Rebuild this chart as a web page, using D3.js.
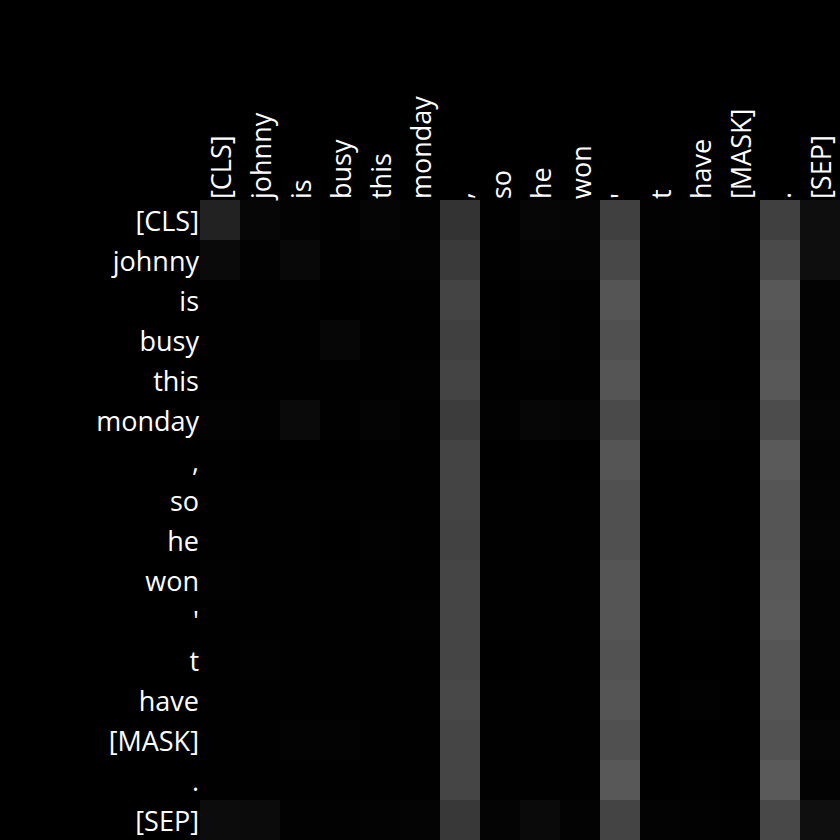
<!DOCTYPE html>
<html>
<head>
  <meta charset="utf-8">
  <title></title>
  <style type="text/css">
    html, body {
      margin: 0;
      padding: 0;
      background-color: #000;
    }

    .label {
      font-family: "Open Sans";
      font-size: 27px;
      fill: #fff;
    }
  </style>
</head>
<body>
  <div class="chart"></div>

  <script type="text/javascript" src="https://cdn.jsdelivr.net/npm/d3@7"></script>
  <script type="text/javascript">

    // tokens, same for rows (query) and columns (key)
    var tokens = ['[CLS]', 'johnny', 'is', 'busy', 'this', 'monday', ',', 'so', 'he', 'won', '\'', 't', 'have', '[MASK]', '.', '[SEP]'];

    // attention weights, one array per row token
    var rowCLS    = [.133, .024, .012, .004, .020, .008, .200, .004, .024, .020, .251, .008, .012, .004, .251, .055];
    var rowJohnny = [.039, .008, .031, .004, .008, .012, .227, .004, .016, .016, .282, .004, .004, .004, .290, .055];
    var rowIs     = [.004, .004, .004, .000, .004, .004, .267, .000, .008, .004, .333, .000, .004, .000, .345, .012];
    var rowBusy   = [.004, .004, .004, .024, .004, .004, .251, .000, .012, .004, .314, .000, .004, .000, .333, .012];
    var rowThis   = [.004, .004, .004, .004, .004, .008, .267, .004, .004, .004, .333, .000, .000, .000, .345, .012];
    var rowMonday = [.012, .008, .039, .004, .016, .004, .235, .008, .024, .020, .290, .008, .012, .004, .298, .020];
    var rowComma  = [.004, .000, .000, .000, .004, .004, .267, .000, .004, .000, .333, .000, .000, .000, .353, .012];
    var rowSo     = [.004, .004, .004, .004, .004, .004, .267, .004, .004, .004, .314, .000, .000, .000, .333, .016];
    var rowHe     = [.004, .004, .004, .000, .008, .004, .259, .004, .004, .004, .314, .000, .000, .000, .333, .020];
    var rowWon    = [.008, .004, .004, .004, .004, .004, .271, .004, .004, .004, .333, .000, .004, .000, .345, .012];
    var rowApos   = [.004, .004, .004, .004, .004, .008, .271, .004, .004, .004, .333, .000, .004, .000, .353, .012];
    var rowT      = [.004, .008, .004, .004, .004, .004, .271, .000, .004, .004, .322, .000, .000, .000, .333, .012];
    var rowHave   = [.004, .004, .004, .004, .004, .004, .282, .004, .004, .004, .333, .000, .008, .000, .333, .008];
    var rowMask   = [.004, .004, .012, .012, .004, .004, .271, .004, .004, .004, .314, .000, .000, .000, .322, .020];
    var rowPeriod = [.004, .004, .004, .004, .004, .004, .271, .004, .004, .004, .345, .000, .004, .000, .353, .012];
    var rowSEP    = [.047, .043, .008, .008, .012, .016, .220, .016, .039, .012, .267, .012, .008, .004, .282, .059];

    var weights = [rowCLS, rowJohnny, rowIs, rowBusy, rowThis, rowMonday, rowComma, rowSo,
                   rowHe, rowWon, rowApos, rowT, rowHave, rowMask, rowPeriod, rowSEP];

    var margin = { top: 200, left: 200, bottom: 0, right: 0 };
    var width = 640;
    var height = 640;

    var svg = d3.select('.chart').append('svg')
      .attr('width', width + margin.left + margin.right)
      .attr('height', height + margin.top + margin.bottom)
      .style('display', 'block')
      .append('g')
        .attr('transform', 'translate(' + margin.left + ',' + margin.top + ')');

    var idx = d3.range(tokens.length);
    var x = d3.scaleBand().domain(idx).range([0, width]);
    var y = d3.scaleBand().domain(idx).range([0, height]);
    var color = d3.scaleLinear().domain([0, 1]).range(['#000000', '#ffffff']);

    var cells = [];
    weights.forEach(function (row, i) {
      row.forEach(function (v, j) {
        cells.push({ row: i, col: j, value: v });
      });
    });

    svg.append('g').selectAll('rect')
      .data(cells).enter().append('rect')
        .attr('x', function (d) { return x(d.col); })
        .attr('y', function (d) { return y(d.row); })
        .attr('width', x.bandwidth())
        .attr('height', y.bandwidth())
        .attr('shape-rendering', 'crispEdges')
        .style('fill', function (d) { return color(d.value); });

    // row labels on the left
    svg.append('g').selectAll('text')
      .data(idx).enter().append('text')
        .attr('class', 'label')
        .attr('x', -1)
        .attr('y', function (d) { return y(d) + y.bandwidth() / 2; })
        .attr('dominant-baseline', 'central')
        .style('text-anchor', 'end')
        .text(function (d) { return tokens[d]; });

    // column labels on top, rotated, reading upward
    svg.append('g').selectAll('text')
      .data(idx).enter().append('text')
        .attr('class', 'label')
        .attr('transform', function (d) {
          return 'translate(' + (x(d) + x.bandwidth() / 2) + ',-1) rotate(-90)';
        })
        .attr('dominant-baseline', 'central')
        .style('text-anchor', 'start')
        .text(function (d) { return tokens[d]; });
  </script>
</body>
</html>
